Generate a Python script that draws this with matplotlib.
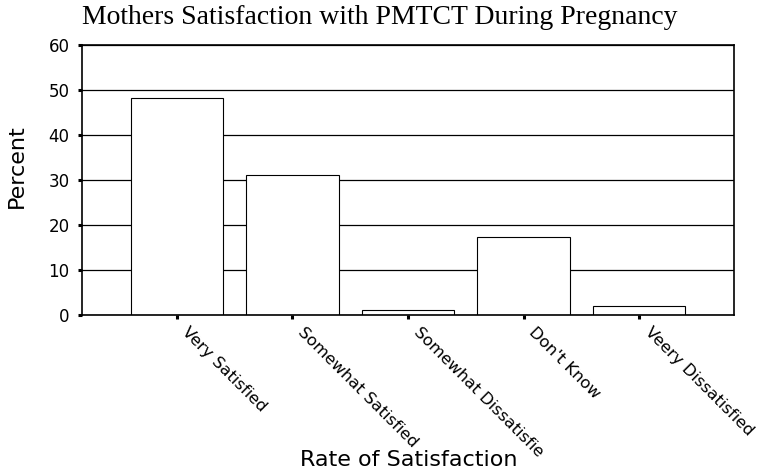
import matplotlib
matplotlib.use("Agg")
import matplotlib.pyplot as plt
import matplotlib.transforms as mtransforms
import numpy as np

# Data
categories = ["Very Satisfied", "Somewhat Satisfied", "Somewhat Dissatisfie",
              "Don't Know", "Veery Dissatisfied"]
percent = [48.3, 31.1, 1.1, 17.4, 2.0]
y_ticks = [0, 10, 20, 30, 40, 50, 60]

title = "Mothers Satisfaction with PMTCT During Pregnancy"
x_label = "Rate of Satisfaction"
y_label = "Percent"

sans = ["DejaVu Sans"]
serif = ["Liberation Serif", "DejaVu Serif"]

fig = plt.figure(figsize=(7.61, 4.72), dpi=100)
ax = fig.add_axes([0.1078, 0.3326, 0.8567, 0.5721])

x = np.arange(len(categories))
ax.set_axisbelow(True)
ax.yaxis.grid(True, color="black", linewidth=0.9)
ax.bar(x, percent, width=0.8, color="white", edgecolor="black", linewidth=0.8, zorder=2)

ax.set_xlim(-0.82, len(categories) - 1 + 0.82)
ax.set_ylim(0, 60)
ax.set_yticks(y_ticks)
ax.set_yticklabels([str(v) for v in y_ticks], fontfamily=sans, fontsize=12)
ax.set_xticks(x)
ax.set_xticklabels([])

# category labels: rotated, starting a little right of each tick
offset = mtransforms.ScaledTranslation(9.5 / 72, -7 / 72, fig.dpi_scale_trans)
for xi, name in zip(x, categories):
    ax.text(xi, 0, name, transform=ax.get_xaxis_transform() + offset,
            rotation=-45, rotation_mode="anchor", ha="left", va="top",
            fontfamily=sans, fontsize=11.8, clip_on=False)

ax.tick_params(axis="both", direction="out", length=3, width=2.2, color="black")
ax.tick_params(axis="y", pad=6)
for sp in ax.spines.values():
    sp.set_linewidth(1.2)
    sp.set_color("black")

fig.text(0.499, 0.963, title, ha="center", va="center",
         fontfamily=serif, fontsize=20)
fig.text(0.537, 0.026, x_label, ha="center", va="center",
         fontfamily=sans, fontsize=16)
fig.text(0.022, 0.647, y_label, ha="center", va="center", rotation=90,
         fontfamily=sans, fontsize=16)

fig.savefig("out.png", dpi=100)
plt.close(fig)
